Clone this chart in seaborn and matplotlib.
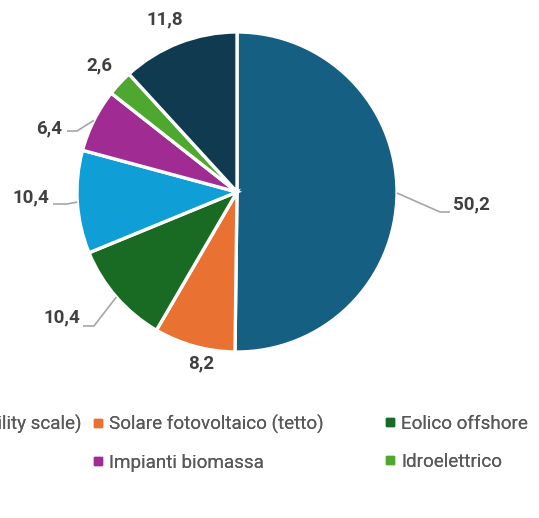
import numpy as np
import matplotlib
matplotlib.use("Agg")
import matplotlib.pyplot as plt
from matplotlib.lines import Line2D
import seaborn as sns

# Quota per fonte (%)
categories = [
    "Solare fotovoltaico (utility scale)",
    "Solare fotovoltaico (tetto)",
    "Eolico offshore",
    "Eolico onshore",
    "Impianti biomassa",
    "Idroelettrico",
    "Altre fonti",
]
values = [50.2, 8.2, 10.4, 10.4, 6.4, 2.6, 11.8]
colors = ["#156082", "#E97132", "#196B24", "#0F9ED5", "#A02B93", "#4EA72E", "#0F3A50"]

sns.set_theme(style="white")
plt.rcParams["font.family"] = ["Roboto", "DejaVu Sans"]

W, H, DPI = 539, 518, 100
fig = plt.figure(figsize=(W / DPI, H / DPI), dpi=DPI)
# pie area: centre (237,192) px, radius 160 px
cx, cy, r = 237, 192, 160
ax = fig.add_axes([(cx - r) / W, (H - cy - r) / H, 2 * r / W, 2 * r / H])

wedges, _ = ax.pie(
    values, colors=colors, startangle=90, counterclock=False, radius=1,
    wedgeprops=dict(edgecolor="white", linewidth=2.4),
)
ax.set_xlim(-1, 1)
ax.set_ylim(-1, 1)
ax.set_aspect("equal")
ax.axis("off")

# data-label layout in radius units: text anchor (x, y, ha) and leader bend points
label_layout = [
    (1.35, -0.075, "left", [(1.269, -0.125), (1.331, -0.125)]),
    (-0.225, -1.07, "center", []),
    (-0.981, -0.781, "right", [(-0.894, -0.8375), (-0.9625, -0.8375)]),
    (-1.175, -0.031, "right", [(-1.0625, -0.075), (-1.15, -0.075)]),
    (-1.094, 0.40, "right", [(-1.0, 0.381), (-1.0625, 0.381)]),
    (-0.8625, 0.794, "center", []),
    (-0.453, 1.081, "center", []),
]
lead_color = "#A6A6A6"
label_color = "#404040"

for w, v, (tx, ty, ha, bends) in zip(wedges, values, label_layout):
    mid = np.deg2rad((w.theta1 + w.theta2) / 2)
    if bends:
        xs = [np.cos(mid)] + [b[0] for b in bends]
        ys = [np.sin(mid)] + [b[1] for b in bends]
        ax.plot(xs, ys, color=lead_color, lw=1.2, clip_on=False,
                solid_capstyle="butt", solid_joinstyle="miter")
    ax.text(tx, ty, f"{v:.1f}".replace(".", ","), ha=ha, va="center",
            fontsize=13.5, fontweight="bold", color=label_color)

# legend laid out in three fixed-width columns, filled row by row
def handle(c):
    return Line2D([], [], marker="s", linestyle="none", markersize=6,
                  markerfacecolor=c, markeredgecolor=c)

legend_kw = dict(frameon=False, fontsize=13.6, labelcolor="#595959",
                 handletextpad=0.3, labelspacing=1.05, handlelength=0.6,
                 borderpad=0, borderaxespad=0)
top = (H - 415) / H
col_anchor = [(82 / W, "upper right"), (92 / W, "upper left"), (384 / W, "upper left")]
for k, (xa, loc) in enumerate(col_anchor):
    idx = list(range(k, len(categories), 3))
    lg = fig.legend([handle(colors[i]) for i in idx], [categories[i] for i in idx],
                    loc=loc, bbox_to_anchor=(xa, top), **legend_kw)
    fig.add_artist(lg)

fig.savefig("out.png", dpi=DPI)
